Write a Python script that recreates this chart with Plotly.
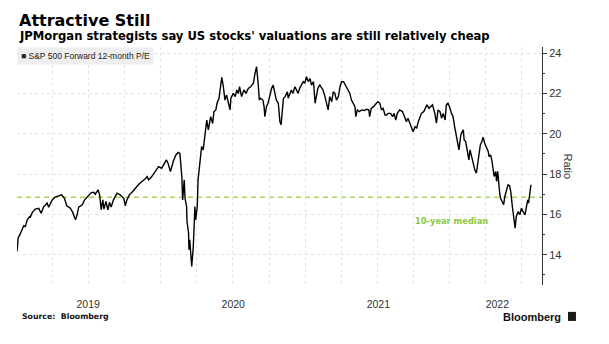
import pandas as pd
import plotly.graph_objects as go

# ---- data ----
START = "2019-01-02"
days = [0, 3, 9, 17, 21, 26, 32, 33, 39, 46, 55, 61, 67, 76, 80, 89, 97, 105, 113, 120,
        126, 135, 141, 148, 152, 156, 165, 171, 179, 188, 194, 198, 205, 209, 213, 217, 220,
        225, 230, 234, 238, 244, 253, 261, 270, 274, 278, 284, 291, 299, 307, 316, 324, 329,
        333, 340,
        349, 358, 366, 371, 378, 382, 388, 393, 395, 402, 408, 412, 417, 419, 423, 425, 429,
        430, 434, 435, 437, 440, 442, 446, 448, 450, 452, 456, 458, 463, 467, 471, 476, 480,
        484, 487, 490, 495, 498, 503, 506, 511, 515, 518, 522, 526, 530, 534, 539, 541, 547,
        552, 556, 560, 563, 568, 574, 579, 585, 591, 598, 602, 606, 610, 613, 616, 622, 625,
        627, 631, 635, 639,
        644, 648, 652, 656, 661, 665, 668, 671, 674, 678, 684, 686, 691, 694, 698, 703, 707,
        711, 715, 720, 724, 728, 732, 737, 741, 745, 750, 754, 758, 761, 766, 770, 774, 779,
        783, 787, 791, 796, 800, 804, 808, 813, 817, 821, 826, 831, 837, 842, 846, 850, 855,
        857, 861, 866, 872, 878, 884, 890, 892, 896, 902, 909, 913, 918, 922, 926, 931, 935,
        939, 945, 950, 954, 958, 962, 968,
        975, 981, 985, 989, 994, 998, 1002, 1007, 1011, 1015, 1019, 1023, 1029, 1034, 1037,
        1042, 1047, 1051, 1057, 1061, 1065, 1070, 1074, 1078, 1083, 1086, 1090, 1094, 1099,
        1103, 1107, 1111, 1116, 1118, 1122, 1124, 1129, 1131, 1135, 1140, 1143, 1146, 1150,
        1154, 1158, 1162, 1165, 1169, 1172, 1176, 1179, 1183, 1187, 1192, 1194, 1198, 1201,
        1205, 1207, 1211, 1213, 1216, 1218, 1221, 1223, 1227, 1231, 1234, 1238, 1242, 1246,
        1249, 1253, 1257, 1260, 1263, 1268, 1272, 1276, 1280, 1285, 1288, 1292, 1294, 1297,
        1300]
pe = [14.16, 14.83, 15.07, 15.44, 15.40, 15.73, 15.90, 15.84, 16.10, 16.26, 16.30, 16.06,
      16.36, 16.56, 16.36, 16.72, 16.86, 16.90, 16.97, 16.80, 16.43, 16.31, 16.10, 15.73,
      15.98, 16.36, 16.48, 16.72, 16.90, 17.08, 17.10, 17.00, 17.22, 16.97, 16.23, 16.72,
      16.26, 16.64, 16.23, 16.60, 16.36, 16.72, 17.05, 16.97, 16.80, 16.43, 16.72, 16.97,
      17.10, 17.30, 17.47, 17.63, 17.75, 17.88, 17.72, 17.85,
      18.13, 18.37, 18.29, 18.46, 18.70, 18.54, 18.13, 18.46, 18.62, 18.95, 19.07, 19.02,
      17.88, 16.72, 17.72, 16.80, 16.39, 15.65, 15.07, 14.25, 14.74, 13.92, 13.42, 14.41,
      15.73, 16.39, 15.73, 16.39, 17.71, 18.70, 19.36, 19.20, 19.94, 20.68, 20.19, 20.51,
      20.85, 20.51, 21.09, 21.18, 21.51, 21.76, 22.33, 22.80, 22.33, 21.67, 21.92, 21.51,
      21.18, 21.76, 22.00, 21.84, 22.17, 22.00, 22.33, 21.84, 22.17, 22.00, 22.25, 22.33,
      22.50, 22.99, 23.32, 22.50, 21.67, 21.76, 21.67, 21.34, 20.85, 21.34, 21.51, 21.84,
      22.25, 22.41, 22.00, 21.67, 21.51, 20.60, 20.44, 21.18, 21.76, 21.84, 22.08, 21.76,
      22.00, 22.17, 22.00, 22.33, 22.17, 22.00, 22.25, 22.41, 22.58, 22.50, 22.83, 22.58,
      22.74, 22.41, 22.58, 21.51, 22.00, 22.25, 22.41, 22.25, 22.17, 21.84, 21.51, 21.18,
      21.84, 21.59, 22.08, 22.00, 21.67, 21.84, 22.33, 22.58, 22.58, 22.41, 22.17, 22.00,
      21.67, 21.51, 21.34, 20.85, 21.18, 21.10, 21.18, 21.15, 21.21, 21.18, 20.85, 21.26,
      21.34, 21.51, 21.59, 21.51, 21.18, 21.26, 20.93, 20.93, 21.01, 21.01, 20.85, 21.01,
      20.68, 21.01, 21.18,
      21.10, 20.85, 20.60, 20.77, 20.52, 20.27, 20.10, 20.35, 20.27, 20.60, 20.85, 21.01,
      21.10, 21.34, 21.43, 21.26, 21.34, 21.43, 21.01, 20.52, 21.18, 21.10, 20.77, 21.01,
      20.68, 21.43, 21.51, 21.34, 21.01, 20.85, 20.35, 19.86, 19.36, 19.20, 19.86, 20.02,
      20.19, 19.69, 19.61, 19.03, 18.70, 19.20, 18.87, 18.54, 18.21, 18.04, 18.54, 19.20,
      19.44, 19.61, 19.83, 19.53, 19.36, 19.12, 18.87, 18.95, 18.70, 18.21, 17.88, 18.13,
      17.63, 18.13, 17.55, 17.05, 16.81, 16.64, 16.48, 16.89, 17.22, 17.47, 17.42, 17.13,
      16.39, 15.73, 15.32, 15.90, 16.14, 15.98, 16.31, 16.14, 15.98, 16.31, 16.72, 16.56,
      16.97, 17.47]
MEDIAN = 16.85
SERIES_NAME = "S&P 500 Forward 12-month P/E"
YEAR_LABELS = ["2019", "2020", "2021", "2022"]
YEAR_LABEL_DATES = ["2019-07-01", "2020-07-02", "2021-07-04", "2022-05-01"]
X_RANGE = ["2019-01-02", "2022-08-22"]
Y_TICKS = [14, 16, 18, 20, 22, 24]

dates = pd.Timestamp(START) + pd.to_timedelta(days, unit="D")

GREEN_LINE = "#a3d94e"
GREEN_TEXT = "#8cc63f"
GRID = "#e3e3e3"
AX = "#333333"

fig = go.Figure()
fig.add_trace(go.Scatter(x=dates, y=pe, mode="lines", name=SERIES_NAME,
                         line=dict(color="#000000", width=1.4), showlegend=False))
fig.add_hline(y=MEDIAN, line=dict(color=GREEN_LINE, width=1.6, dash="5px,4px"), layer="below")

fig.update_layout(
    width=609, height=344,
    margin=dict(l=17, r=67, t=47, b=59),
    paper_bgcolor="white", plot_bgcolor="white",
    font=dict(family="Liberation Sans, Arial, sans-serif", color=AX),
)
fig.update_xaxes(
    type="date", range=X_RANGE,
    tickmode="array", tickvals=YEAR_LABEL_DATES, ticktext=YEAR_LABELS,
    ticks="outside", ticklen=9, tickcolor="rgba(0,0,0,0)",
    tickfont=dict(size=10.5, color="#333333"),
    showgrid=False, showline=False, zeroline=False,
    minor=dict(dtick="M3", tick0="2019-01-01", showgrid=True, gridcolor=GRID,
               griddash="dot", gridwidth=1, ticks=""),
)
fig.update_yaxes(
    side="right", range=[12.5, 24.3],
    tickmode="array", tickvals=Y_TICKS,
    ticks="outside", ticklen=4, tickcolor=AX, tickwidth=1,
    tickfont=dict(size=11, color="#333333"),
    showgrid=True, gridcolor=GRID, griddash="dot", gridwidth=1,
    showline=True, linecolor=AX, linewidth=1, zeroline=False,
    minor=dict(dtick=1, ticks="outside", ticklen=2, tickcolor=AX, showgrid=False),
)

ann = [
    dict(text="<b>Attractive Still</b>", x=0, y=1.113, xref="paper", yref="paper",
         xanchor="left", yanchor="middle", showarrow=False,
         font=dict(family="DejaVu Sans", size=16, color="#000000")),
    dict(text="<b>JPMorgan strategists say US stocks' valuations are still relatively cheap</b>",
         x=0, y=1.046, xref="paper", yref="paper", xanchor="left", yanchor="middle",
         showarrow=False, font=dict(family="DejaVu Sans", size=11.6, color="#000000")),
    dict(text="■ " + SERIES_NAME, x=0, y=1.0, xref="paper", yref="paper",
         xanchor="left", yanchor="top", showarrow=False, bgcolor="#eeeeee", borderpad=3,
         font=dict(family="Liberation Sans", size=8.5, color="#222222")),
    dict(text="Ratio", x=1.0486, y=0.5, xref="paper", yref="paper", textangle=90,
         xanchor="center", yanchor="middle", showarrow=False,
         font=dict(family="Liberation Sans", size=11, color="#333333")),
    dict(text="<b>10-year median</b>", x="2021-09-30", y=15.68, xref="x", yref="y",
         xanchor="left", yanchor="middle", showarrow=False,
         font=dict(family="DejaVu Sans", size=8.3, color=GREEN_TEXT)),
    dict(text="<b>Source:  Bloomberg</b>", x=0.006, y=-0.134, xref="paper", yref="paper",
         xanchor="left", yanchor="middle", showarrow=False,
         font=dict(family="DejaVu Sans", size=7.8, color="#111111")),
    dict(text="<b>Bloomberg</b>", x=1.040, y=-0.134, xref="paper", yref="paper",
         xanchor="right", yanchor="middle", showarrow=False,
         font=dict(family="Liberation Sans", size=11, color="#111111")),
]
fig.update_layout(annotations=ann)
fig.add_shape(type="rect", xref="paper", yref="paper", x0=1.0495, x1=1.0647, y0=-0.151, y1=-0.113,
              line=dict(width=0), fillcolor="#1a1a1a")

fig.write_html("out.html")
